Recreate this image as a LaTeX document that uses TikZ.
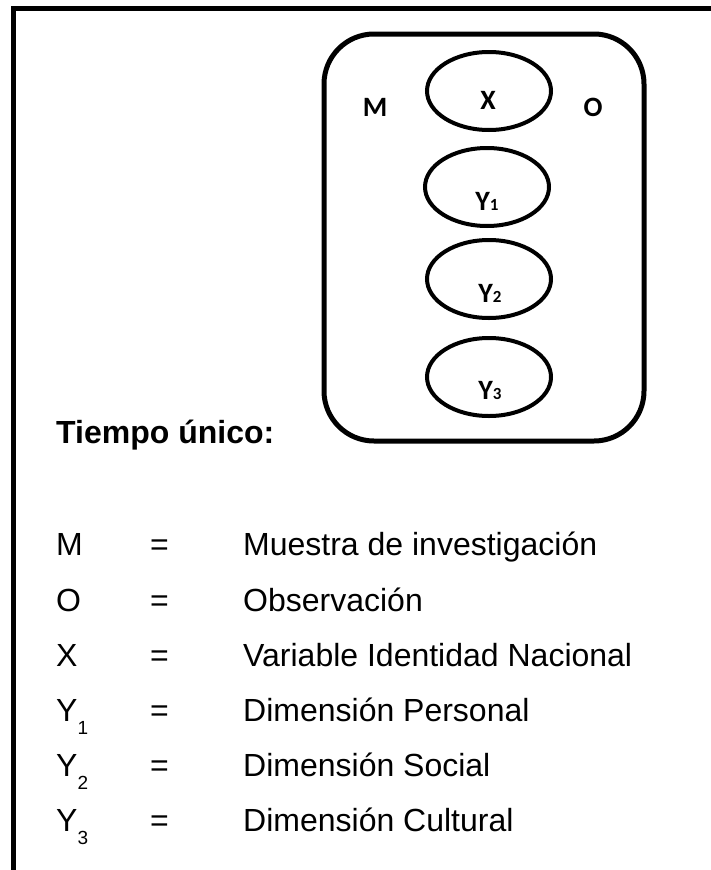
\documentclass[tikz,border=0pt]{standalone}
\usepackage{fontspec}
\setmainfont{Liberation Sans}
\newfontfamily\calibri{Carlito}
\usetikzlibrary{shapes.geometric}
\tikzset{
  caja/.style= {draw, line width=5pt, rounded corners=50pt, minimum width=320pt, minimum height=407pt},
  elip/.style= {draw, ellipse, line width=4pt, minimum width=124pt, minimum height=78pt},
  etiq/.style= {inner sep=0, font=\calibri\bfseries\fontsize{28}{28}\selectfont},
  leyenda/.style= {anchor=base west, inner sep=0, font=\fontsize{32}{38}\selectfont},
}
\newcommand{\ysub}[1]{Y{\fontsize{17}{17}\selectfont #1}}
\newcommand{\yleg}[1]{Y\raisebox{-13pt}{\fontsize{19}{19}\selectfont #1}}

\begin{document}
\begin{tikzpicture}[x=1pt, y=-1pt]
  \useasboundingbox (0,0) rectangle (711,870);
  \begin{scope}
    \clip (0,0) rectangle (711,870);
    \draw[line width=5pt] (13,8.5) rectangle (740,900);
  \end{scope}

  \node [caja] (caja) at (484,237.5) {};
  \node [elip] (x) at (489,91) {};
  \node [elip] (y1) at (487,187) {};
  \node [elip] (y2) at (489,279) {};
  \node [elip] (y3) at (489,377) {};

  \node [etiq] (m) at (375,107) {M};
  \node [etiq] (o) at (593,107) {O};
  \node [etiq] (lx) at (488,100) {X};
  \node [etiq] (ly1) at (487,201) {\ysub{1}};
  \node [etiq] (ly2) at (490,293) {\ysub{2}};
  \node [etiq] (ly3) at (490,390) {\ysub{3}};

  \node [leyenda, font=\bfseries\fontsize{32}{38}\selectfont] (tiempo) at (56,443) {Tiempo único:};

  % leyenda
  \node [leyenda] (s1) at (56,555) {M};
  \node [leyenda] (e1) at (150,555) {=};
  \node [leyenda] (t1) at (243,555) {Muestra de investigación};
  \node [leyenda] (s2) at (56,611) {O};
  \node [leyenda] (e2) at (150,611) {=};
  \node [leyenda] (t2) at (243,611) {Observación};
  \node [leyenda] (s3) at (56,666) {X};
  \node [leyenda] (e3) at (150,666) {=};
  \node [leyenda] (t3) at (243,666) {Variable Identidad Nacional};
  \node [leyenda] (s4) at (56,721) {\yleg{1}};
  \node [leyenda] (e4) at (150,721) {=};
  \node [leyenda] (t4) at (243,721) {Dimensión Personal};
  \node [leyenda] (s5) at (56,776) {\yleg{2}};
  \node [leyenda] (e5) at (150,776) {=};
  \node [leyenda] (t5) at (243,776) {Dimensión Social};
  \node [leyenda] (s6) at (56,831) {\yleg{3}};
  \node [leyenda] (e6) at (150,831) {=};
  \node [leyenda] (t6) at (243,831) {Dimensión Cultural};
\end{tikzpicture}
\end{document}
